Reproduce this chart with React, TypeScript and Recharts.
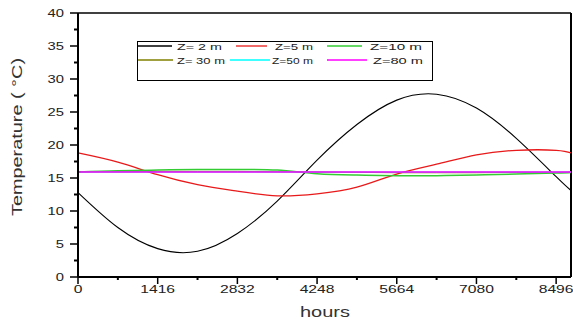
import { LineChart, Line, XAxis, YAxis, Legend, ReferenceLine } from 'recharts';

// Hours of the year (sample points)
const hours = [0, 708, 1416, 2124, 2832, 3540, 4248, 4956, 5664, 6372, 7080, 7788, 8496, 8760];

// Temperature (°C) per depth
const z2 = [12.8, 7.5, 4.3, 3.9, 6.6, 11.5, 17.7, 23.1, 26.8, 27.7, 25.6, 21.0, 15.2, 13.1];
const z5 = [18.8, 17.4, 15.5, 14.0, 13.0, 12.3, 12.6, 13.6, 15.6, 17.1, 18.5, 19.2, 19.2, 18.8];
const z10 = [15.9, 16.1, 16.2, 16.3, 16.3, 16.2, 15.65, 15.45, 15.35, 15.35, 15.45, 15.6, 15.75, 15.85];
const z30 = [15.95, 15.95, 16.0, 16.0, 16.0, 15.95, 15.9, 15.85, 15.8, 15.8, 15.8, 15.85, 15.85, 15.9];
const z50 = [15.9, 15.9, 15.9, 15.9, 15.9, 15.9, 15.9, 15.9, 15.9, 15.9, 15.9, 15.9, 15.9, 15.9];
const z80 = [15.9, 15.9, 15.9, 15.9, 15.9, 15.9, 15.9, 15.9, 15.9, 15.9, 15.9, 15.9, 15.9, 15.9];

const xTicks = [0, 708, 1416, 2124, 2832, 3540, 4248, 4956, 5664, 6372, 7080, 7788, 8496];
const yTicks = [0, 2.5, 5, 7.5, 10, 12.5, 15, 17.5, 20, 22.5, 25, 27.5, 30, 32.5, 35, 37.5, 40];

const series = [
  { key: 'z2', name: 'Z= 2 m', color: '#000000', width: 1.1, values: z2 },
  { key: 'z5', name: 'Z=5 m', color: '#e8191a', width: 1.3, values: z5 },
  { key: 'z10', name: 'Z=10 m', color: '#33cc33', width: 1.5, values: z10 },
  { key: 'z30', name: 'Z= 30 m', color: '#808000', width: 1, values: z30 },
  { key: 'z50', name: 'Z=50 m', color: '#00ffff', width: 1, values: z50 },
  { key: 'z80', name: 'Z=80 m', color: '#ff00ff', width: 1.6, values: z80 },
];

const data = hours.map((t, i) => {
  const row: Record<string, number> = { t };
  series.forEach((s) => { row[s.key] = s.values[i]; });
  return row;
});

// legend item layout: [lineStart, lineEnd, textStart, textWidth, rowY]
const legendLayout = [
  [1, 35, 40, 45, 5],
  [99, 130, 138, 38, 5],
  [190, 225, 233, 52, 5],
  [1, 36, 40, 48, 19],
  [93, 133, 135, 41, 19],
  [190, 230, 236, 50, 19],
];

const XTick = (props: any) => {
  const { x, y, payload } = props;
  const v = payload.value;
  const major = v % 1416 === 0;
  const label = String(v);
  return (
    <g>
      <line x1={x} y1={y} x2={x} y2={y + (major ? 7 : 3)} stroke="#000" strokeWidth={major ? 1.5 : 2} />
      {major && (
        <text x={x} y={y + 16} textAnchor="middle" fontSize={11} fill="#222"
          textLength={label.length * 8.7} lengthAdjust="spacingAndGlyphs">
          {label}
        </text>
      )}
    </g>
  );
};

const YTick = (props: any) => {
  const { x, y, payload } = props;
  const v = payload.value;
  const major = v % 5 === 0;
  const label = String(v);
  return (
    <g>
      <line x1={x - (major ? 8 : 4)} y1={y} x2={x} y2={y} stroke="#000" strokeWidth={major ? 1.5 : 2} />
      {major && (
        <text x={x - 14} y={y + 4} textAnchor="end" fontSize={11} fill="#222"
          textLength={label.length * 8.2} lengthAdjust="spacingAndGlyphs">
          {label}
        </text>
      )}
    </g>
  );
};

const YLabel = () => (
  <text x={22} y={137} transform="rotate(-90 22 137)" textAnchor="middle" fontSize={14} fill="#333"
    textLength={158} lengthAdjust="spacingAndGlyphs">
    Temperature ( °C)
  </text>
);

const XLabel = () => (
  <text x={325} y={317} textAnchor="middle" fontSize={15} fill="#333"
    textLength={50} lengthAdjust="spacingAndGlyphs">
    hours
  </text>
);

const LegendBox = () => (
  <svg width={297} height={41} style={{ display: 'block' }}>
    <rect x={0.5} y={0.5} width={295} height={39} fill="#fff" stroke="#000" strokeWidth={1} />
    {series.map((s, i) => {
      const [l1, l2, tx, tw, ry] = legendLayout[i];
      return (
        <g key={s.key}>
          <line x1={l1} y1={ry} x2={l2} y2={ry} stroke={s.color} strokeWidth={1.3} />
          <text x={tx} y={ry + 3.5} fontSize={9.5} fill="#222" textLength={tw} lengthAdjust="spacingAndGlyphs">
            {s.name}
          </text>
        </g>
      );
    })}
  </svg>
);

const App = () => (
  <div style={{ position: 'absolute', left: 0, top: 0, background: '#fff', fontFamily: 'Arial, "Liberation Sans", sans-serif' }}>
    <LineChart width={573} height={321} data={data} margin={{ top: 13, right: 2, left: 0, bottom: 0 }}>
      <XAxis
        type="number"
        dataKey="t"
        domain={[0, 8760]}
        ticks={xTicks}
        interval={0}
        height={44}
        tickSize={0}
        tickMargin={0}
        tickLine={false}
        axisLine={{ stroke: '#000', strokeWidth: 2 }}
        tick={<XTick />}
        label={<XLabel />}
      />
      <YAxis
        type="number"
        domain={[0, 40]}
        ticks={yTicks}
        interval={0}
        width={78}
        tickSize={0}
        tickMargin={0}
        tickLine={false}
        axisLine={{ stroke: '#000', strokeWidth: 2 }}
        tick={<YTick />}
        label={<YLabel />}
      />
      <ReferenceLine y={40} stroke="#000" strokeWidth={1.5} />
      <ReferenceLine x={8760} stroke="#000" strokeWidth={2} />
      {series.map((s) => (
        <Line
          key={s.key}
          type="natural"
          dataKey={s.key}
          name={s.name}
          stroke={s.color}
          strokeWidth={s.width}
          dot={false}
          activeDot={false}
          isAnimationActive={false}
        />
      ))}
      <Legend
        layout="vertical"
        align="center"
        verticalAlign="middle"
        content={<LegendBox />}
        wrapperStyle={{ left: 137, top: 41, width: 297, height: 41 }}
      />
    </LineChart>
  </div>
);

export default App;
